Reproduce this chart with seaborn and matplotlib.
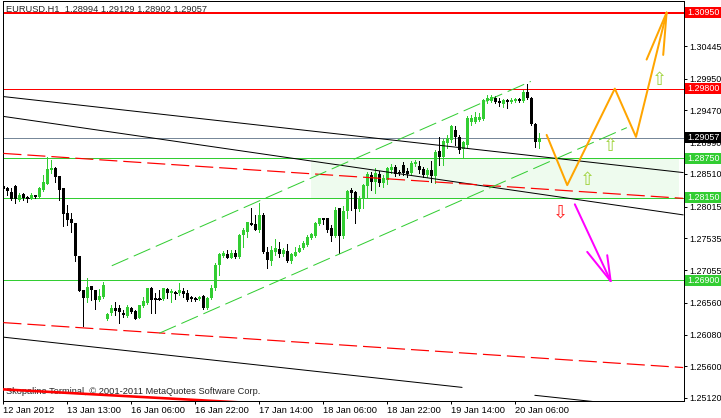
import numpy as np
import seaborn as sns
import matplotlib
matplotlib.use("Agg")
import matplotlib.pyplot as plt
import matplotlib.transforms as mtransforms
from matplotlib.patches import Rectangle

# EURUSD H1 candles, one per bar (12 Jan 2012 21:00 .. 20 Jan 2012 12:00)
opens = [
    1.2833, 1.2830, 1.2824, 1.2833, 1.2812, 1.2821, 1.2816, 1.2815, 1.2819, 1.2816,
    1.2827, 1.2836, 1.2857, 1.2860, 1.2848, 1.2830, 1.2792, 1.2783, 1.2777, 1.2727,
    1.2675, 1.2663, 1.2682, 1.2675, 1.2660, 1.2665, 1.2632, 1.2641, 1.2648, 1.2648,
    1.2641, 1.2636, 1.2648, 1.2644, 1.2633, 1.2651, 1.2656, 1.2678, 1.2663, 1.2663,
    1.2662, 1.2677, 1.2671, 1.2672, 1.2671, 1.2674, 1.2671, 1.2665, 1.2663, 1.2662,
    1.2666, 1.2648, 1.2663, 1.2678, 1.2713, 1.2727, 1.2730, 1.2724, 1.2731, 1.2725,
    1.2759, 1.2763, 1.2777, 1.2775, 1.2766, 1.2789, 1.2733, 1.2719, 1.2733, 1.2737,
    1.2730, 1.2734, 1.2719, 1.2727, 1.2733, 1.2739, 1.2743, 1.2754, 1.2757, 1.2775,
    1.2784, 1.2784, 1.2769, 1.2757, 1.2799, 1.2757, 1.2795, 1.2827, 1.2824, 1.2798,
    1.2813, 1.2833, 1.2849, 1.2839, 1.2851, 1.2837, 1.2842, 1.2857, 1.2861, 1.2854,
    1.2865, 1.2855, 1.2852, 1.2866, 1.2863, 1.2858, 1.2849, 1.2857, 1.2848, 1.2886,
    1.2877, 1.2898, 1.2902, 1.2917, 1.2907, 1.2889, 1.2895, 1.2930, 1.2930, 1.2933,
    1.2934, 1.2961, 1.2961, 1.2966, 1.2961, 1.2957, 1.2963, 1.2960, 1.2961, 1.2964,
    1.2961, 1.2975, 1.2966, 1.2927, 1.28994,
]
highs = [
    1.2834, 1.2831, 1.2830, 1.2834, 1.2822, 1.2822, 1.2818, 1.2822, 1.2819, 1.2831,
    1.2849, 1.2877, 1.2872, 1.2861, 1.2848, 1.2830, 1.2804, 1.2792, 1.2777, 1.2727,
    1.2675, 1.2694, 1.2682, 1.2675, 1.2677, 1.2688, 1.2641, 1.2653, 1.2657, 1.2653,
    1.2645, 1.2653, 1.2650, 1.2645, 1.2653, 1.2665, 1.2678, 1.2680, 1.2671, 1.2675,
    1.2678, 1.2678, 1.2677, 1.2674, 1.2686, 1.2678, 1.2675, 1.2666, 1.2665, 1.2666,
    1.2668, 1.2665, 1.2683, 1.2716, 1.2731, 1.2734, 1.2736, 1.2736, 1.2736, 1.2760,
    1.2769, 1.2778, 1.2799, 1.2789, 1.2807, 1.2792, 1.2740, 1.2742, 1.2753, 1.2748,
    1.2739, 1.2745, 1.2731, 1.2740, 1.2743, 1.2750, 1.2759, 1.2762, 1.2778, 1.2784,
    1.2784, 1.2784, 1.2774, 1.2801, 1.2799, 1.2802, 1.2827, 1.2830, 1.2825, 1.2818,
    1.2836, 1.2854, 1.2854, 1.2860, 1.2855, 1.2849, 1.2861, 1.2866, 1.2865, 1.2857,
    1.2869, 1.2860, 1.2871, 1.2872, 1.2871, 1.2861, 1.2860, 1.2871, 1.2887, 1.2907,
    1.2904, 1.2910, 1.2925, 1.2924, 1.2910, 1.2901, 1.2939, 1.2940, 1.2945, 1.2943,
    1.2964, 1.2970, 1.2970, 1.2969, 1.2966, 1.2964, 1.2964, 1.2966, 1.2966, 1.2966,
    1.2978, 1.2987, 1.2967, 1.2928, 1.29129,
]
lows = [
    1.2825, 1.2819, 1.2812, 1.2807, 1.2810, 1.2812, 1.2808, 1.2813, 1.2815, 1.2815,
    1.2825, 1.2836, 1.2852, 1.2839, 1.2812, 1.2772, 1.2774, 1.2763, 1.2719, 1.2674,
    1.2621, 1.2657, 1.2660, 1.2647, 1.2659, 1.2663, 1.2630, 1.2638, 1.2638, 1.2625,
    1.2635, 1.2635, 1.2641, 1.2632, 1.2633, 1.2650, 1.2654, 1.2641, 1.2641, 1.2660,
    1.2660, 1.2663, 1.2657, 1.2662, 1.2668, 1.2665, 1.2659, 1.2659, 1.2659, 1.2660,
    1.2647, 1.2647, 1.2662, 1.2675, 1.2698, 1.2725, 1.2724, 1.2724, 1.2724, 1.2724,
    1.2740, 1.2756, 1.2774, 1.2766, 1.2763, 1.2731, 1.2709, 1.2713, 1.2728, 1.2725,
    1.2727, 1.2718, 1.2716, 1.2727, 1.2733, 1.2737, 1.2742, 1.2753, 1.2756, 1.2774,
    1.2775, 1.2763, 1.2750, 1.2756, 1.2731, 1.2754, 1.2784, 1.2796, 1.2777, 1.2795,
    1.2799, 1.2815, 1.2827, 1.2822, 1.2833, 1.2831, 1.2836, 1.2852, 1.2848, 1.2849,
    1.2849, 1.2846, 1.2849, 1.2863, 1.2852, 1.2846, 1.2846, 1.2839, 1.2837, 1.2865,
    1.2865, 1.2890, 1.2899, 1.2895, 1.2883, 1.2875, 1.2892, 1.2925, 1.2928, 1.2931,
    1.2933, 1.2958, 1.2960, 1.2958, 1.2954, 1.2952, 1.2951, 1.2958, 1.2960, 1.2960,
    1.2960, 1.2964, 1.2925, 1.2892, 1.28902,
]
closes = [
    1.2828, 1.2825, 1.2813, 1.2813, 1.2819, 1.2815, 1.2815, 1.2819, 1.2816, 1.2830,
    1.2839, 1.2858, 1.2860, 1.2846, 1.2827, 1.2790, 1.2781, 1.2777, 1.2727, 1.2674,
    1.2663, 1.2680, 1.2675, 1.2660, 1.2666, 1.2683, 1.2639, 1.2648, 1.2644, 1.2642,
    1.2638, 1.2650, 1.2642, 1.2632, 1.2653, 1.2659, 1.2678, 1.2660, 1.2662, 1.2662,
    1.2678, 1.2671, 1.2674, 1.2671, 1.2675, 1.2669, 1.2660, 1.2662, 1.2662, 1.2665,
    1.2648, 1.2663, 1.2678, 1.2713, 1.2730, 1.2731, 1.2724, 1.2731, 1.2725, 1.2759,
    1.2766, 1.2778, 1.2774, 1.2766, 1.2789, 1.2733, 1.2721, 1.2736, 1.2739, 1.2730,
    1.2736, 1.2719, 1.2730, 1.2733, 1.2739, 1.2747, 1.2756, 1.2760, 1.2777, 1.2784,
    1.2781, 1.2766, 1.2757, 1.2796, 1.2757, 1.2795, 1.2825, 1.2822, 1.2798, 1.2813,
    1.2834, 1.2851, 1.2839, 1.2852, 1.2837, 1.2845, 1.2860, 1.2861, 1.2851, 1.2852,
    1.2852, 1.2851, 1.2868, 1.2869, 1.2857, 1.2849, 1.2857, 1.2848, 1.2884, 1.2877,
    1.2901, 1.2905, 1.2924, 1.2907, 1.2887, 1.2899, 1.2936, 1.2936, 1.2937, 1.2937,
    1.2963, 1.2966, 1.2967, 1.2960, 1.2958, 1.2963, 1.2960, 1.2963, 1.2964, 1.2961,
    1.2975, 1.2966, 1.2927, 1.2899, 1.29057,
]

# time axis labels (every 16 bars)
tick_bars = [0, 16, 32, 48, 64, 80, 96, 112, 128]
tick_labels = ["12 Jan 2012", "13 Jan 13:00", "16 Jan 06:00", "16 Jan 22:00",
               "17 Jan 14:00", "18 Jan 06:00", "18 Jan 22:00", "19 Jan 14:00",
               "20 Jan 06:00"]
price_ticks = [1.30445, 1.29950, 1.29470, 1.28990, 1.28510, 1.28015,
               1.27535, 1.27055, 1.26560, 1.26080, 1.25600, 1.25120]

# horizontal levels
red_levels = [1.3095, 1.2980]
green_levels = [1.2875, 1.2815, 1.2690]
zone = [1.2815, 1.2875]
zone_bars = [76.9, 168.9]

# trend lines as (bar, price) end points
black_a = ([0, 170], [1.2968, 1.2853])
black_b = ([0, 170], [1.2938, 1.2789])
black_c1 = ([0, 114.7], [1.2604, 1.2528])
black_c2 = ([132.9, 170], [1.2516, 1.2492])
red_thick = ([0, 60], [1.2525, 1.2505])
red_dash_hi = ([0, 170], [1.2882, 1.2814])
red_dash_lo = ([0, 170], [1.2626, 1.2558])
green_dash_hi = ([27.1, 131.9], [1.2712, 1.2991])
green_dash_lo = ([39.0, 155.9], [1.2610, 1.2921])

# forecast paths
orange_bars = [135.85, 141.0, 152.9, 158.2, 165.85]
orange_prices = [1.2910, 1.2834, 1.2980, 1.2907, 1.3095]
orange_barbs = ([160.85, 165.0], [1.3024, 1.3031])
magenta_bars = [142.9, 151.85]
magenta_prices = [1.2805, 1.2689]
magenta_barbs = ([146.0, 151.0], [1.2733, 1.2728])

up_marks = ([146.1, 151.9, 164.0], [1.2842, 1.2893, 1.2993])
down_marks = ([139.4], [1.2793])

# price labels on the right scale
label_prices = [1.30950, 1.29800, 1.29057, 1.28750, 1.28150, 1.26900]
label_colors = ["#FF0000", "#FF0000", "#000000", "#32CD32", "#32CD32", "#32CD32"]

sns.set_theme(style="white")
plt.rcParams["font.family"] = ["Liberation Sans", "DejaVu Sans"]
plt.rcParams["lines.scale_dashes"] = False

W, H = 721, 418
fig = plt.figure(figsize=(W / 100, H / 100), dpi=100)
fig.patch.set_facecolor("white")
ax = fig.add_axes([3 / W, 17 / H, 681 / W, 400 / H])
ax.set_facecolor("white")
ax.set_xlim(-0.1, 170.2)
ax.set_ylim(1.25074, 1.31126)

green = "#32CD32"
px = 0.72  # one pixel in points
fs = 6.4

# support zone
ax.add_patch(Rectangle((zone_bars[0], zone[0]), zone_bars[1] - zone_bars[0],
                       zone[1] - zone[0], color="#EEFBEE", lw=0, zorder=0.6))

# levels
ax.axhline(red_levels[0], color="red", lw=2 * px, zorder=2)
ax.axhline(red_levels[1], color="red", lw=px, zorder=2)
for lv in green_levels:
    ax.axhline(lv, color=green, lw=px, zorder=2)
ax.axhline(closes[-1], color="#778899", lw=px, zorder=2)

# candles
x = np.arange(len(closes))
o, h, l, c = (np.array(v) for v in (opens, highs, lows, closes))
cols = np.where(c >= o, green, "black")
ax.vlines(x, l, h, colors=cols, lw=px, antialiased=False, zorder=3)
ax.bar(x, c - o, bottom=o, width=0.72, color=cols, lw=0, antialiased=False, zorder=3)
flat = np.abs(c - o) < 0.00012
ax.hlines(c[flat], x[flat] - 0.36, x[flat] + 0.36, colors=cols[flat], lw=px,
          antialiased=False, zorder=3)

# trend lines
for ln in (black_a, black_b, black_c1, black_c2):
    ax.plot(*ln, color="black", lw=px, zorder=4)
ax.plot(*red_thick, color="red", lw=2.6 * px, zorder=4)
for ln in (red_dash_hi, red_dash_lo):
    ax.plot(*ln, color="red", lw=1.2 * px, ls=(0, (13, 4.3)), zorder=4)
for ln in (green_dash_hi, green_dash_lo):
    ax.plot(*ln, color=green, lw=px, ls=(0, (13, 4.3)), zorder=4)

# forecast arrows
sns.lineplot(x=orange_bars, y=orange_prices, sort=False, estimator=None,
             color="#FFA500", lw=2 * px, ax=ax, zorder=5)
for bx, by in zip(*orange_barbs):
    ax.plot([orange_bars[-1], bx], [orange_prices[-1], by], color="#FFA500", lw=2 * px, zorder=5)
sns.lineplot(x=magenta_bars, y=magenta_prices, sort=False, estimator=None,
             color="#FF00FF", lw=2 * px, ax=ax, zorder=5)
for bx, by in zip(*magenta_barbs):
    ax.plot([magenta_bars[-1], bx], [magenta_prices[-1], by], color="#FF00FF", lw=2 * px, zorder=5)

for bx, by in zip(*up_marks):
    ax.text(bx, by, "\u21e7", color="#9FD33A", fontsize=13, ha="center", va="center",
            family="DejaVu Sans", zorder=5)
for bx, by in zip(*down_marks):
    ax.text(bx, by, "\u21e9", color="#FF2020", fontsize=13, ha="center", va="center",
            family="DejaVu Sans", zorder=5)

# texts
ax.text(3 / 681, (401 - 12) / 400, "EURUSD,H1  1.28994 1.29129 1.28902 1.29057",
        transform=ax.transAxes, fontsize=6.7, va="baseline", ha="left", zorder=1)
ax.text(3 / 681, (401 - 394.5) / 400,
        "Skopalino Terminal, \u00a9 2001-2011 MetaQuotes Software Corp.",
        transform=ax.transAxes, fontsize=6.7, va="baseline", ha="left", zorder=1)

# axes
ax.yaxis.tick_right()
ax.set_yticks(price_ticks)
ax.set_yticklabels([f"{v:.5f}" for v in price_ticks])
ax.set_xticks(tick_bars)
ax.set_xticklabels(tick_labels)
for lbl in ax.get_xticklabels():
    lbl.set_horizontalalignment("left")
ax.tick_params(axis="y", right=True, left=False, direction="out", length=2.2,
               width=px, pad=1.5, labelsize=fs, colors="black")
ax.tick_params(axis="x", bottom=True, direction="out", length=2.5, width=px,
               pad=1.2, labelsize=6.7, colors="black")
for sp in ax.spines.values():
    sp.set_color("black")
    sp.set_linewidth(px)

trans = mtransforms.blended_transform_factory(ax.transAxes, ax.transData)
box_h = 11 * 0.0001513
for val, col in zip(label_prices, label_colors):
    ax.add_patch(Rectangle((1 + 1.5 / 681, val - box_h / 2), 36 / 681, box_h,
                           transform=trans, color=col, lw=0, clip_on=False, zorder=6))
    ax.text(1 + 3.5 / 681, val, f"{val:.5f}", transform=trans, color="white",
            fontsize=fs, va="center", ha="left", clip_on=False, zorder=7)

fig.savefig("out.png", dpi=100, facecolor="white")
